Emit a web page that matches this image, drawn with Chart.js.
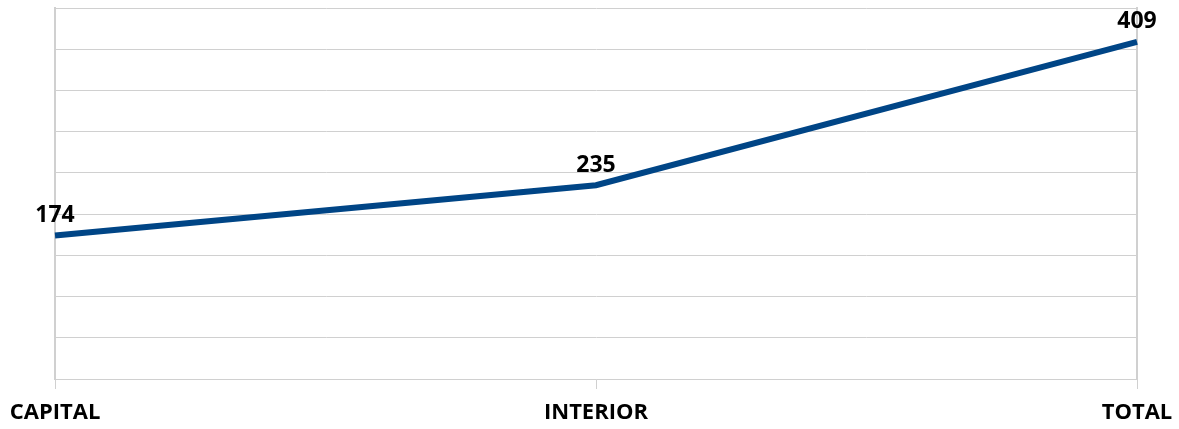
<!DOCTYPE html>
<html>
<head>
<meta charset="utf-8">
<script src="https://cdn.jsdelivr.net/npm/chart.js@4"></script>
<style>
  html, body { margin: 0; padding: 0; background: #fff; }
  #wrap { width: 1179px; height: 429px; position: relative; }
</style>
</head>
<body>
<div id="wrap"><canvas id="linechart"></canvas></div>
<script>
const categories = ["CAPITAL", "INTERIOR", "TOTAL"];
const values = [174, 235, 409];
const yMax = 450;
const yStep = 50;

const lineColor = "#004586";
const gridColor = "#d0d0d0";

// draws the number above each point, positioned from the line's own points
const pointLabels = {
    id: "pointLabels",
    afterDatasetsDraw(chart) {
        const ctx = chart.ctx;
        const meta = chart.getDatasetMeta(0);
        ctx.save();
        ctx.font = "bold 23px 'Open Sans'";
        ctx.fillStyle = "#000";
        ctx.textAlign = "center";
        ctx.textBaseline = "middle";
        meta.data.forEach((pt, i) => {
            ctx.fillText(String(values[i]), pt.x, pt.y - 20);
        });
        ctx.restore();
    },
};

const ctx = document.getElementById("linechart").getContext("2d");

const chart = new Chart(ctx, {
    type: "line",
    data: {
        labels: categories,
        datasets: [
            {
                label: "Total",
                data: values,
                borderColor: lineColor,
                borderWidth: 6,
                pointRadius: 0,
                tension: 0,
                fill: false,
            },
        ],
    },
    options: {
        responsive: true,
        maintainAspectRatio: false,
        animation: false,
        layout: { padding: { left: 55, right: 42, top: 8, bottom: 0 } },
        plugins: {
            legend: { display: false },
            tooltip: { enabled: false },
        },
        scales: {
            x: {
                offset: false,
                grid: {
                    drawOnChartArea: false,
                    drawTicks: true,
                    tickLength: 10,
                    color: gridColor,
                },
                border: { display: true, color: gridColor, width: 1 },
                ticks: {
                    color: "#000",
                    font: { family: "'Open Sans'", weight: "bold", size: 22 },
                    padding: 11,
                    maxRotation: 0,
                    autoSkip: false,
                },
                afterFit(scale) {
                    scale.height = 50;
                    scale.paddingLeft = 0;
                    scale.paddingRight = 0;
                },
            },
            y: {
                min: 0,
                max: yMax,
                ticks: { display: false, stepSize: yStep },
                grid: { color: gridColor, drawTicks: false },
                border: { display: true, color: gridColor, width: 2 },
                afterFit(scale) {
                    scale.width = 0;
                },
            },
            yRight: {
                position: "right",
                min: 0,
                max: yMax,
                ticks: { display: false },
                grid: { display: false, drawTicks: false },
                border: { display: true, color: gridColor, width: 2 },
                afterFit(scale) {
                    scale.width = 0;
                },
            },
        },
    },
    plugins: [pointLabels],
});
</script>
</body>
</html>
